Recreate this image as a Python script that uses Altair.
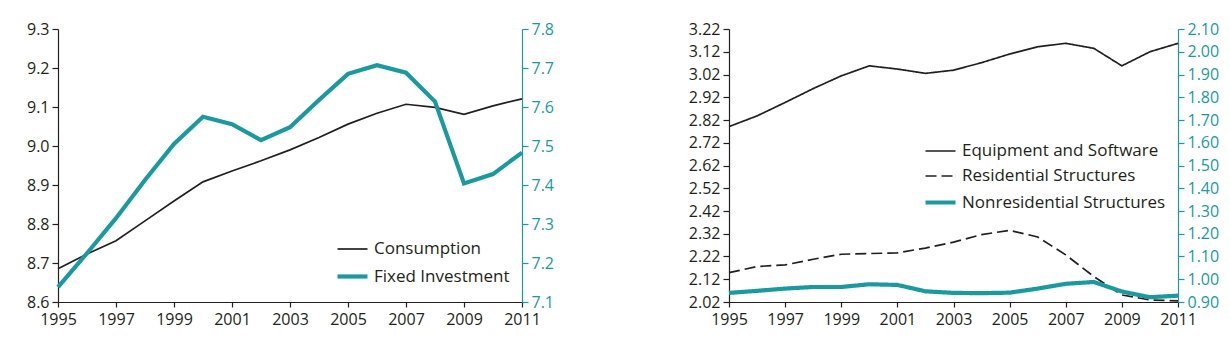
import altair as alt
import pandas as pd

# ---------------- data ----------------
years = list(range(1995, 2012))

consumption = [8.685, 8.723, 8.757, 8.808, 8.859, 8.908, 8.936, 8.962, 8.990,
               9.022, 9.056, 9.084, 9.107, 9.099, 9.081, 9.103, 9.121]
fixed_investment = [7.138, 7.225, 7.315, 7.413, 7.505, 7.575, 7.556, 7.515, 7.548,
                    7.618, 7.685, 7.707, 7.688, 7.614, 7.404, 7.428, 7.483]

equipment = [2.791, 2.838, 2.897, 2.958, 3.014, 3.058, 3.044, 3.025, 3.039,
             3.072, 3.110, 3.142, 3.157, 3.135, 3.058, 3.120, 3.157]
residential = [2.149, 2.176, 2.183, 2.208, 2.230, 2.233, 2.236, 2.257, 2.283,
               2.316, 2.335, 2.306, 2.227, 2.132, 2.051, 2.029, 2.025]
nonresidential = [0.940, 0.949, 0.959, 0.966, 0.966, 0.978, 0.975, 0.947, 0.940,
                  0.939, 0.941, 0.959, 0.980, 0.988, 0.946, 0.921, 0.928]

x_ticks = [1995, 1997, 1999, 2001, 2003, 2005, 2007, 2009, 2011]
left1_ticks = [8.6, 8.7, 8.8, 8.9, 9.0, 9.1, 9.2, 9.3]
right1_ticks = [7.1, 7.2, 7.3, 7.4, 7.5, 7.6, 7.7, 7.8]
left2_ticks = [2.02, 2.12, 2.22, 2.32, 2.42, 2.52, 2.62, 2.72, 2.82, 2.92, 3.02, 3.12, 3.22]
right2_ticks = [0.90, 1.00, 1.10, 1.20, 1.30, 1.40, 1.50, 1.60, 1.70, 1.80, 1.90, 2.00, 2.10]

series1 = ["Consumption", "Fixed Investment"]
series2 = ["Equipment and Software", "Residential Structures", "Nonresidential Structures"]

# ---------------- styles ----------------
BLACK = "#231f20"
TEAL = "#1a9a9e"
FONT = "Open Sans"
FS = 16
LFS = 17

df1 = pd.concat([
    pd.DataFrame({"year": years, "value": consumption, "series": series1[0]}),
    pd.DataFrame({"year": years, "value": fixed_investment, "series": series1[1]}),
])
df2 = pd.concat([
    pd.DataFrame({"year": years, "value": equipment, "series": series2[0]}),
    pd.DataFrame({"year": years, "value": residential, "series": series2[1]}),
    pd.DataFrame({"year": years, "value": nonresidential, "series": series2[2]}),
])


def x_enc():
    return alt.X("year:Q",
                 scale=alt.Scale(domain=[1995, 2011], nice=False, zero=False),
                 axis=alt.Axis(values=x_ticks, format="d", title=None, grid=False,
                               labelFont=FONT, labelFontSize=FS, labelColor=BLACK,
                               domainColor=BLACK, tickColor=BLACK, tickSize=5,
                               labelPadding=4, domainWidth=1.2, tickWidth=1.2,
                               labelFlush=False, labelOverlap=False))


def y_axis(values, fmt, orient, color, extent):
    return alt.Axis(values=values, format=fmt, orient=orient, title=None, grid=False,
                    labelFont=FONT, labelFontSize=FS, labelColor=color,
                    domainColor=color, tickColor=color, tickSize=6,
                    labelPadding=3, domainWidth=1.2, tickWidth=1.2,
                    labelOverlap=False, labelFlush=False,
                    minExtent=extent, maxExtent=extent)


def legend(x, y, row_pad):
    return alt.Legend(title=None, orient="none", legendX=x, legendY=y,
                      symbolType="stroke", symbolSize=900, labelFont=FONT,
                      labelFontSize=LFS, labelColor=BLACK, padding=0,
                      rowPadding=row_pad, labelOffset=4, labelLimit=0)


# ---------------- left panel ----------------
leg1 = legend(277, 204, 2)
color1 = alt.Color("series:N", scale=alt.Scale(domain=series1, range=[BLACK, TEAL]), legend=leg1)
width1 = alt.StrokeWidth("series:N",
                         scale=alt.Scale(type="ordinal", domain=series1, range=[1.7, 4.2]),
                         legend=leg1)

base1 = alt.Chart(df1)
cons = base1.transform_filter(alt.datum.series == series1[0]).mark_line().encode(
    x=x_enc(),
    y=alt.Y("value:Q", scale=alt.Scale(domain=[8.6, 9.3], nice=False, zero=False),
            axis=y_axis(left1_ticks, ".1f", "left", BLACK, 40)),
    color=color1, strokeWidth=width1,
)
fix = base1.transform_filter(alt.datum.series == series1[1]).mark_line().encode(
    x=x_enc(),
    y=alt.Y("value:Q", scale=alt.Scale(domain=[7.1, 7.8], nice=False, zero=False),
            axis=y_axis(right1_ticks, ".1f", "right", TEAL, 35)),
    color=color1, strokeWidth=width1,
)
left = alt.layer(cons, fix).resolve_scale(y="independent").properties(width=464, height=273)

# ---------------- right panel ----------------
leg2 = legend(194, 106, 1)
color2 = alt.Color("series:N", scale=alt.Scale(domain=series2, range=[BLACK, BLACK, TEAL]), legend=leg2)
width2 = alt.StrokeWidth("series:N",
                         scale=alt.Scale(type="ordinal", domain=series2, range=[1.7, 1.7, 4.2]),
                         legend=leg2)
dash2 = alt.StrokeDash("series:N", scale=alt.Scale(domain=series2, range=[[1, 0], [11, 5], [1, 0]]),
                       legend=leg2)

base2 = alt.Chart(df2)
lhs = base2.transform_filter(alt.datum.series != series2[2]).mark_line().encode(
    x=x_enc(),
    y=alt.Y("value:Q", scale=alt.Scale(domain=[2.02, 3.22], nice=False, zero=False),
            axis=y_axis(left2_ticks, ".2f", "left", BLACK, 42)),
    color=color2, strokeWidth=width2, strokeDash=dash2,
)
rhs = base2.transform_filter(alt.datum.series == series2[2]).mark_line().encode(
    x=x_enc(),
    y=alt.Y("value:Q", scale=alt.Scale(domain=[0.90, 2.10], nice=False, zero=False),
            axis=y_axis(right2_ticks, ".2f", "right", TEAL, 42)),
    color=color2, strokeWidth=width2, strokeDash=dash2,
)
right = alt.layer(lhs, rhs).resolve_scale(y="independent").properties(width=449, height=273)

chart = alt.hconcat(left, right, spacing=130).resolve_scale(
    color="independent", strokeWidth="independent", strokeDash="independent"
).resolve_legend(
    color="independent", strokeWidth="independent", strokeDash="independent"
).properties(
    padding={"left": 18, "top": 21, "right": 5, "bottom": 5},
    background="white",
).configure_view(stroke=None)

chart.save("out.html", embed_options={"renderer": "svg", "actions": False})
